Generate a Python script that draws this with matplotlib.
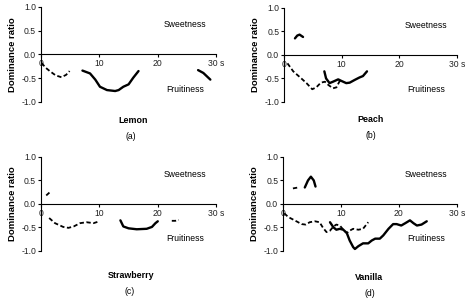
import matplotlib
matplotlib.use("Agg")
import matplotlib.pyplot as plt

plt.rcParams['font.family'] = ['Liberation Sans', 'DejaVu Sans']

# ---- data ----
lemon_dash_x = [0.1, 0.8, 1.5, 2.5, 3.5, 4.3, 4.9]
lemon_dash_y = [-0.18, -0.28, -0.35, -0.44, -0.48, -0.43, -0.35]
lemon_solid1_x = [7.1, 8.4, 9.3, 10.1, 11.3, 12.7, 13.3, 14.1, 15.0, 15.8, 16.7]
lemon_solid1_y = [-0.34, -0.40, -0.53, -0.68, -0.75, -0.77, -0.75, -0.68, -0.63, -0.49, -0.35]
lemon_solid2_x = [26.9, 27.8, 29.0]
lemon_solid2_y = [-0.33, -0.39, -0.53]

peach_sweet_x = [1.9, 2.3, 2.7, 3.3]
peach_sweet_y = [0.35, 0.41, 0.43, 0.38]
peach_dash_x = [0.6, 1.6, 3.0, 3.9, 4.9, 5.6, 6.4, 7.1, 7.7, 8.5, 9.1, 9.6, 10.1]
peach_dash_y = [-0.18, -0.35, -0.50, -0.60, -0.73, -0.69, -0.59, -0.57, -0.64, -0.71, -0.69, -0.57, -0.52]
peach_solid_x = [7.0, 7.3, 7.9, 8.5, 9.4, 9.9, 10.8, 11.4, 12.3, 13.1, 13.7, 14.4]
peach_solid_y = [-0.35, -0.50, -0.60, -0.57, -0.52, -0.55, -0.60, -0.59, -0.53, -0.48, -0.45, -0.35]

straw_sweet_x = [0.9, 1.7]
straw_sweet_y = [0.18, 0.27]
straw_dash_x = [1.4, 2.4, 3.8, 4.7, 5.6, 6.7, 7.8, 9.0, 10.0]
straw_dash_y = [-0.30, -0.41, -0.49, -0.51, -0.48, -0.41, -0.39, -0.41, -0.37]
straw_solid_x = [13.6, 14.1, 15.0, 16.4, 18.1, 19.0, 19.6, 20.0]
straw_solid_y = [-0.35, -0.48, -0.52, -0.54, -0.53, -0.49, -0.41, -0.37]
straw_dash2_x = [22.4, 23.0, 23.6]
straw_dash2_y = [-0.36, -0.36, -0.34]

van_sweet_dash_x = [1.7, 2.6]
van_sweet_dash_y = [0.33, 0.35]
van_sweet_solid_x = [3.75, 4.3, 4.8, 5.3, 5.6]
van_sweet_solid_y = [0.35, 0.50, 0.58, 0.50, 0.37]
van_dash_x = [0.2, 0.9, 2.0, 3.2, 3.9, 4.6, 5.5, 6.3, 6.9, 7.5, 8.1, 8.7, 9.2, 9.8, 10.4, 11.0, 11.5, 12.1, 13.0, 13.8, 14.7]
van_dash_y = [-0.20, -0.28, -0.35, -0.43, -0.44, -0.39, -0.37, -0.39, -0.51, -0.60, -0.57, -0.48, -0.44, -0.46, -0.55, -0.62, -0.57, -0.53, -0.55, -0.53, -0.39]
van_solid_x = [8.1, 8.7, 9.2, 9.8, 10.4, 11.0, 11.5, 12.1, 12.4, 13.0, 13.8, 14.7, 15.3, 15.9, 16.7, 17.3, 18.2, 19.0, 19.6, 20.4, 21.1, 21.9, 22.5, 23.1, 23.9, 24.8]
van_solid_y = [-0.39, -0.50, -0.55, -0.53, -0.55, -0.62, -0.78, -0.92, -0.96, -0.90, -0.84, -0.84, -0.78, -0.74, -0.74, -0.67, -0.53, -0.43, -0.43, -0.46, -0.41, -0.35, -0.41, -0.46, -0.44, -0.37]

x_ticks = [0, 10, 20, 30]
x_tick_labels = ['0', '10', '20', '30 s']
y_ticks = [-1.0, -0.5, 0.0, 0.5, 1.0]
y_tick_labels = ['-1.0', '-0.5', '0.0', '0.5', '1.0']

panels = [
    dict(name='Lemon', tag='(a)',
         solid=[(lemon_solid1_x, lemon_solid1_y), (lemon_solid2_x, lemon_solid2_y)],
         dashed=[(lemon_dash_x, lemon_dash_y)],
         name_xy=(15.8, -1.40), tag_xy=(15.4, -1.72)),
    dict(name='Peach', tag='(b)',
         solid=[(peach_sweet_x, peach_sweet_y), (peach_solid_x, peach_solid_y)],
         dashed=[(peach_dash_x, peach_dash_y)],
         name_xy=(15.1, -1.37), tag_xy=(15.1, -1.72)),
    dict(name='Strawberry', tag='(c)',
         solid=[(straw_solid_x, straw_solid_y)],
         dashed=[(straw_sweet_x, straw_sweet_y), (straw_dash_x, straw_dash_y), (straw_dash2_x, straw_dash2_y)],
         name_xy=(15.5, -1.52), tag_xy=(15.2, -1.87)),
    dict(name='Vanilla', tag='(d)',
         solid=[(van_sweet_solid_x, van_sweet_solid_y), (van_solid_x, van_solid_y)],
         dashed=[(van_sweet_dash_x, van_sweet_dash_y), (van_dash_x, van_dash_y)],
         name_xy=(14.9, -1.56), tag_xy=(14.9, -1.90)),
]

fig = plt.figure(figsize=(4.71, 2.99), dpi=100)
positions = [
    [0.087, 0.659, 0.372, 0.318],
    [0.603, 0.659, 0.367, 0.315],
    [0.087, 0.161, 0.372, 0.314],
    [0.601, 0.161, 0.369, 0.314],
]

for p, pos in zip(panels, positions):
    ax = fig.add_axes(pos)
    for xs, ys in p['solid']:
        ax.plot(xs, ys, color='black', lw=1.7, solid_capstyle='round', solid_joinstyle='round')
    for xs, ys in p['dashed']:
        ax.plot(xs, ys, color='black', lw=1.3, dashes=(2.4, 1.4))
    ax.set_xlim(0, 30)
    ax.set_ylim(-1, 1)
    ax.spines['top'].set_visible(False)
    ax.spines['right'].set_visible(False)
    ax.spines['bottom'].set_position('zero')
    ax.spines['left'].set_linewidth(0.8)
    ax.spines['bottom'].set_linewidth(0.8)
    ax.set_xticks(x_ticks)
    ax.set_xticklabels(x_tick_labels, fontsize=6.2, color='#222222')
    ax.set_yticks(y_ticks)
    ax.set_yticklabels(y_tick_labels, fontsize=6.2, color='#222222')
    ax.tick_params(axis='both', direction='out', length=2, width=0.8, pad=1.5)
    ax.set_ylabel('Dominance ratio', fontsize=6.8, fontweight='bold', labelpad=3)
    ax.text(24.7, 0.63, 'Sweetness', fontsize=6.2, ha='center', va='center')
    ax.text(24.7, -0.74, 'Fruitiness', fontsize=6.2, ha='center', va='center')
    ax.text(p['name_xy'][0], p['name_xy'][1], p['name'], fontsize=6.4, fontweight='bold',
            ha='center', va='center')
    ax.text(p['tag_xy'][0], p['tag_xy'][1], p['tag'], fontsize=6.2, ha='center', va='center')

fig.savefig('out.png', dpi=100)
